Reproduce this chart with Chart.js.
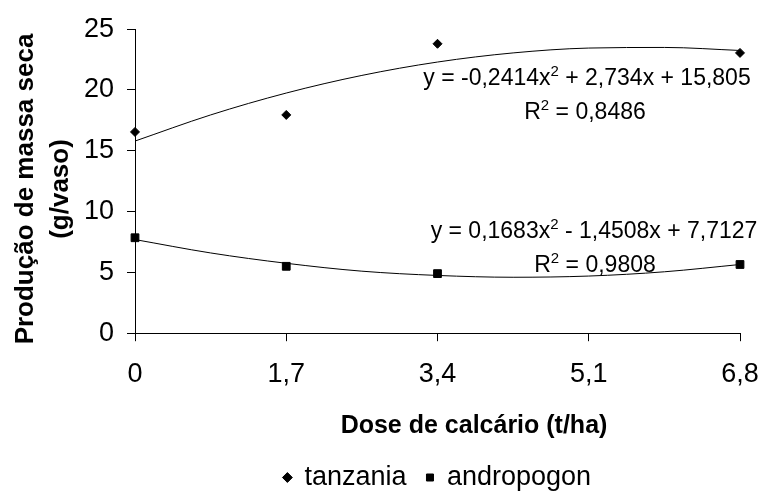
<!DOCTYPE html>
<html lang="pt-br">

<head>
    <meta charset="UTF-8">
    <title>Produção de massa seca</title>
    <script src="https://cdn.jsdelivr.net/npm/chart.js"></script>
    <style>
        body { margin: 0; background: #fff; }
        #grafico { display: block; }
    </style>
</head>

<body>
    <canvas id="grafico" width="763" height="495"></canvas>
</body>

</html>

<script>
    // dados
    const doses = [0, 1.7, 3.4, 6.8];
    const tanzania = [16.55, 17.95, 23.8, 23.05];
    const andropogon = [7.85, 5.5, 4.9, 5.65];

    // linhas de tendencia (polinomial)
    const dosesTendencia = [0, 0.85, 1.7, 2.55, 3.4, 4.25, 5.1, 5.95, 6.8];
    const tendTanzania = [15.8, 17.95, 19.75, 21.2, 22.3, 23.05, 23.45, 23.5, 23.25];
    const tendAndropogon = [7.7, 6.6, 5.75, 5.1, 4.75, 4.6, 4.7, 5.05, 5.65];

    const xTicks = [0, 1.7, 3.4, 5.1, 6.8];
    const xTickLabels = ['0', '1,7', '3,4', '5,1', '6,8'];
    const yTicks = [0, 5, 10, 15, 20, 25];

    const tituloX = 'Dose de calcário (t/ha)';
    const tituloY = ['Produção de massa seca', '(g/vaso)'];

    const eqTanzania = ['y = -0,2414x', '2', ' + 2,734x + 15,805'];
    const r2Tanzania = ['R', '2', ' = 0,8486'];
    const eqAndropogon = ['y = 0,1683x', '2', ' - 1,4508x + 7,7127'];
    const r2Andropogon = ['R', '2', ' = 0,9808'];

    const fonte = "'Liberation Sans', Arial, sans-serif";

    function pares(xs, ys) {
        return xs.map((x, i) => ({ x: x, y: ys[i] }));
    }

    // texto com expoente: [antes, sobrescrito, depois]
    function desenhaEq(ctx, partes, cx, base) {
        const normal = '23px ' + fonte;
        const sup = '15px ' + fonte;
        ctx.font = normal;
        const w0 = ctx.measureText(partes[0]).width;
        const w2 = ctx.measureText(partes[2]).width;
        ctx.font = sup;
        const w1 = ctx.measureText(partes[1]).width;
        let x = cx - (w0 + w1 + w2) / 2;
        ctx.textAlign = 'left';
        ctx.textBaseline = 'alphabetic';
        ctx.font = normal;
        ctx.fillText(partes[0], x, base);
        x += w0;
        ctx.font = sup;
        ctx.fillText(partes[1], x, base - 9);
        x += w1;
        ctx.font = normal;
        ctx.fillText(partes[2], x, base);
    }

    const textos = {
        id: 'textos',
        afterDraw(chart) {
            const ctx = chart.ctx;
            ctx.save();
            ctx.fillStyle = '#000';

            // titulo eixo x
            ctx.font = 'bold 25px ' + fonte;
            ctx.textAlign = 'center';
            ctx.textBaseline = 'alphabetic';
            ctx.fillText(tituloX, 474, 433);

            // titulo eixo y (duas linhas, girado)
            ctx.font = 'bold 26px ' + fonte;
            ctx.save();
            ctx.translate(33, 189);
            ctx.rotate(-Math.PI / 2);
            ctx.fillText(tituloY[0], 0, 0);
            ctx.fillText(tituloY[1], 0, 35);
            ctx.restore();

            // equacoes das linhas de tendencia
            desenhaEq(ctx, eqTanzania, 587, 85);
            desenhaEq(ctx, r2Tanzania, 585, 119);
            desenhaEq(ctx, eqAndropogon, 594, 238);
            desenhaEq(ctx, r2Andropogon, 595, 272);
            ctx.restore();
        }
    };

    const ctx = document.getElementById('grafico').getContext('2d');

    new Chart(ctx, {
        type: 'scatter',
        data: {
            datasets: [
                {
                    label: 'tanzania',
                    data: pares(doses, tanzania),
                    pointStyle: 'rectRot',
                    pointRadius: 4.5,
                    backgroundColor: '#000',
                    borderColor: '#000',
                    borderWidth: 1,
                    showLine: false,
                    clip: false
                },
                {
                    label: 'andropogon',
                    data: pares(doses, andropogon),
                    pointStyle: 'rect',
                    pointRadius: 5.5,
                    backgroundColor: '#000',
                    borderColor: '#000',
                    borderWidth: 1,
                    showLine: false,
                    clip: false
                },
                {
                    label: 'tend_tanzania',
                    data: pares(dosesTendencia, tendTanzania),
                    showLine: true,
                    pointRadius: 0,
                    borderColor: '#000',
                    borderWidth: 1,
                    cubicInterpolationMode: 'monotone'
                },
                {
                    label: 'tend_andropogon',
                    data: pares(dosesTendencia, tendAndropogon),
                    showLine: true,
                    pointRadius: 0,
                    borderColor: '#000',
                    borderWidth: 1,
                    cubicInterpolationMode: 'monotone'
                }
            ]
        },
        options: {
            responsive: false,
            animation: false,
            layout: { padding: { top: 28, right: 23, bottom: -6, left: 0 } },
            scales: {
                x: {
                    type: 'linear',
                    min: 0,
                    max: 6.8,
                    afterBuildTicks: (scale) => { scale.ticks = xTicks.map(v => ({ value: v })); },
                    afterFit: (scale) => {
                        scale.height = 110.8;
                        scale.paddingLeft = 0;
                        scale.paddingRight = 0;
                    },
                    ticks: {
                        color: '#000',
                        padding: 17,
                        font: { family: fonte, size: 27 },
                        callback: (value, i) => xTickLabels[i]
                    },
                    grid: { drawOnChartArea: false, color: '#000', tickLength: 8 },
                    border: { display: true, color: '#000', width: 1 }
                },
                y: {
                    min: 0,
                    max: 25,
                    afterBuildTicks: (scale) => { scale.ticks = yTicks.map(v => ({ value: v })); },
                    afterFit: (scale) => { scale.width = 135; },
                    ticks: {
                        color: '#000',
                        padding: 13,
                        font: { family: fonte, size: 27 }
                    },
                    grid: { drawOnChartArea: false, color: '#000', tickLength: 8 },
                    border: { display: true, color: '#000', width: 1 }
                }
            },
            plugins: {
                tooltip: { enabled: false },
                legend: {
                    position: 'bottom',
                    fullSize: false,
                    labels: {
                        usePointStyle: true,
                        boxWidth: 7,
                        boxHeight: 7,
                        padding: 20,
                        color: '#000',
                        font: { family: fonte, size: 27 },
                        filter: (item) => !item.text.startsWith('tend_')
                    }
                }
            }
        },
        plugins: [textos]
    });
</script>
